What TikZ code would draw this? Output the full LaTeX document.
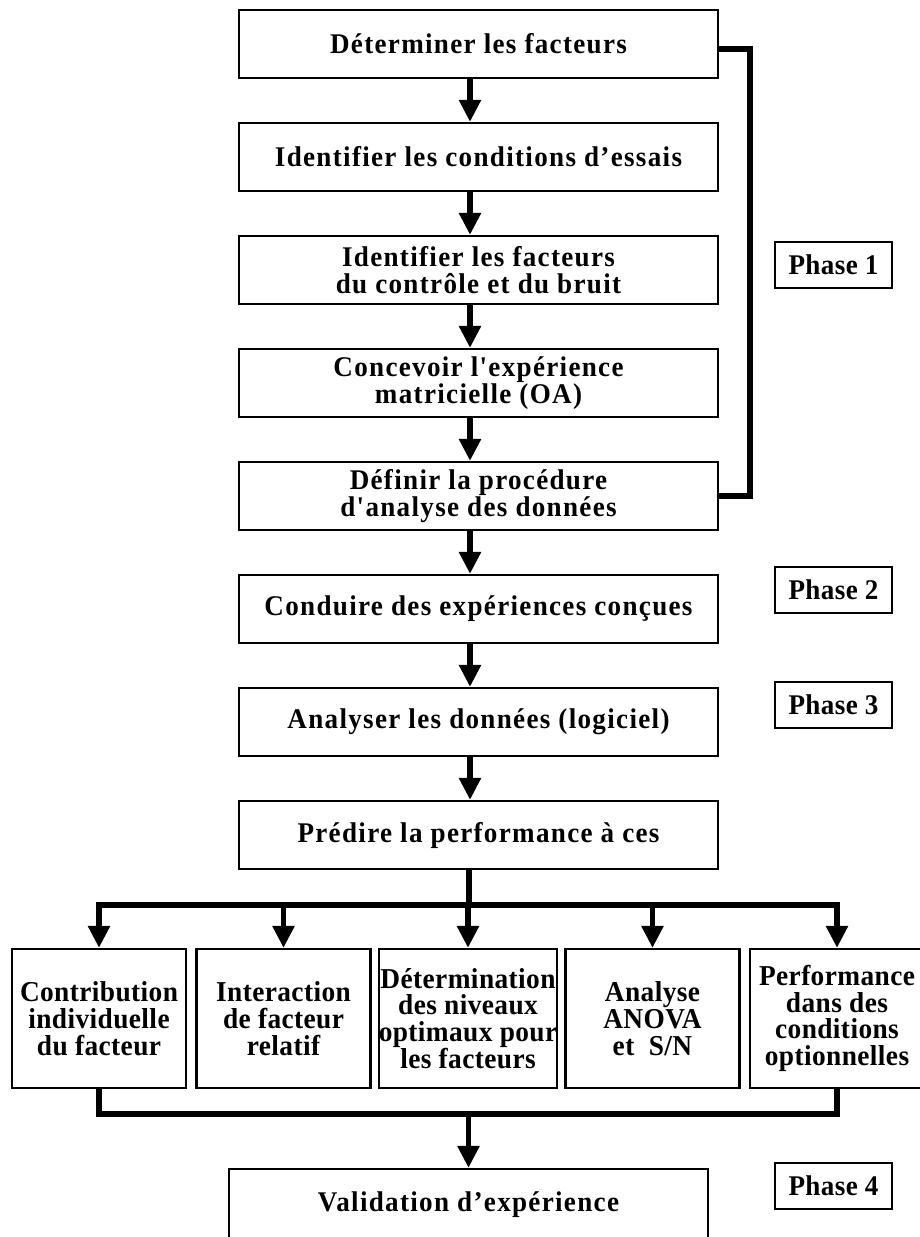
\documentclass[tikz,border=0pt]{standalone}
\usepackage{fontspec}
\usepackage{tikz}
\usetikzlibrary{arrows.meta,positioning}
\newfontfamily\widefont[LetterSpace=4.6,FakeStretch=0.95]{Liberation Serif}
\newfontfamily\cellfont[LetterSpace=1.4,FakeStretch=0.95]{Liberation Serif}

\begin{document}
\begin{tikzpicture}[x=1pt, y=-1pt, node distance=113pt,
    stepbox/.style={draw, line width=2.2pt, minimum width=479pt, minimum height=68pt, inner sep=0pt, align=center,
      font=\widefont\bfseries\fontsize{28.5}{26.5}\selectfont},
    cellbox/.style={draw, line width=2.2pt, minimum width=174pt, minimum height=139pt, inner sep=0pt, align=center,
      font=\cellfont\bfseries\fontsize{28.8}{26.7}\selectfont},
    phasebox/.style={draw, line width=2pt, minimum width=117pt, minimum height=46pt, inner sep=0pt,
      font=\cellfont\bfseries\fontsize{28.5}{27}\selectfont},
    conn/.style={line width=5.5pt},
    arrow/.style={conn, -{Triangle[length=22pt,width=21pt]}}]
  \useasboundingbox (0,0) rectangle (919,1237);
      \node (d1) [stepbox] at (478.5,44) {Déterminer les facteurs};
      \node (d2) [stepbox, below of=d1] {Identifier les conditions d’essais};
      \node (d3) [stepbox, below of=d2] {Identifier les facteurs\\du contrôle et du bruit};
      \node (d4) [stepbox, below of=d3] {Concevoir l'expérience\\matricielle (OA)};
      \node (d5) [stepbox, below of=d4] {Définir la procédure\\d'analyse des données};
      \node (d6) [stepbox, below of=d5] {Conduire des expériences conçues};
      \node (d7) [stepbox, below of=d6] {Analyser les données (logiciel)};
      \node (d8) [stepbox, below of=d7] {Prédire la performance à ces};
      % resultats de l'analyse
      \node (cA) [cellbox] at (99,1018.5) {Contribution\\individuelle\\du facteur};
      \node (cB) [cellbox, right of=cA, node distance=184.5pt] {Interaction\\de facteur\\relatif};
      \node (cC) [cellbox, right of=cB, node distance=184.5pt] {Détermination\\des niveaux\\optimaux pour\\les facteurs};
      \node (cD) [cellbox, right of=cC, node distance=184.5pt] {Analyse\\ANOVA\\et~ S/N};
      \node (cE) [cellbox, right of=cD, node distance=184.5pt] {Performance\\dans des\\conditions\\optionnelles};
      \node (val) [stepbox, minimum height=72pt] at (468.5,1205) {Validation d’expérience};
      % phases
      \node (p1) [phasebox] at (833.5,265) {Phase 1};
      \node (p2) [phasebox] at (833.5,590) {Phase 2};
      \node (p3) [phasebox] at (833.5,705) {Phase 3};
      \node (p4) [phasebox] at (833.5,1186) {Phase 4};
    \draw [arrow] ([xshift=-8.5pt]d1.south) to ([xshift=-8.5pt]d2.north);
    \draw [arrow] ([xshift=-8.5pt]d2.south) to ([xshift=-8.5pt]d3.north);
    \draw [arrow] ([xshift=-8.5pt]d3.south) to ([xshift=-8.5pt]d4.north);
    \draw [arrow] ([xshift=-8.5pt]d4.south) to ([xshift=-8.5pt]d5.north);
    \draw [arrow] ([xshift=-8.5pt]d5.south) to ([xshift=-8.5pt]d6.north);
    \draw [arrow] ([xshift=-8.5pt]d6.south) to ([xshift=-8.5pt]d7.north);
    \draw [arrow] ([xshift=-8.5pt]d7.south) to ([xshift=-8.5pt]d8.north);
    \draw [conn] ([yshift=-5pt]d1.east) -- ++(31,0) |- (d5.east);
      \coordinate (bus) at (469,905);
      \coordinate (join) at (468.5,1114);
    \draw [conn] ([xshift=-9.5pt]d8.south) -- (bus);
    \draw [conn, {Triangle[length=22pt,width=21pt]}-{Triangle[length=22pt,width=21pt]}] (cA.north) -- (cA.north |- bus) -- (cE.north |- bus) -- (cE.north);
    \draw [arrow] (cB.north |- bus) to (cB.north);
    \draw [arrow] (cC.north |- bus) to (cC.north);
    \draw [arrow] (cD.north |- bus) to (cD.north);
    \draw [conn] (cA.south) |- (join) -| (cE.south);
    \draw [arrow] (join) to (val.north);
\end{tikzpicture}
\end{document}
